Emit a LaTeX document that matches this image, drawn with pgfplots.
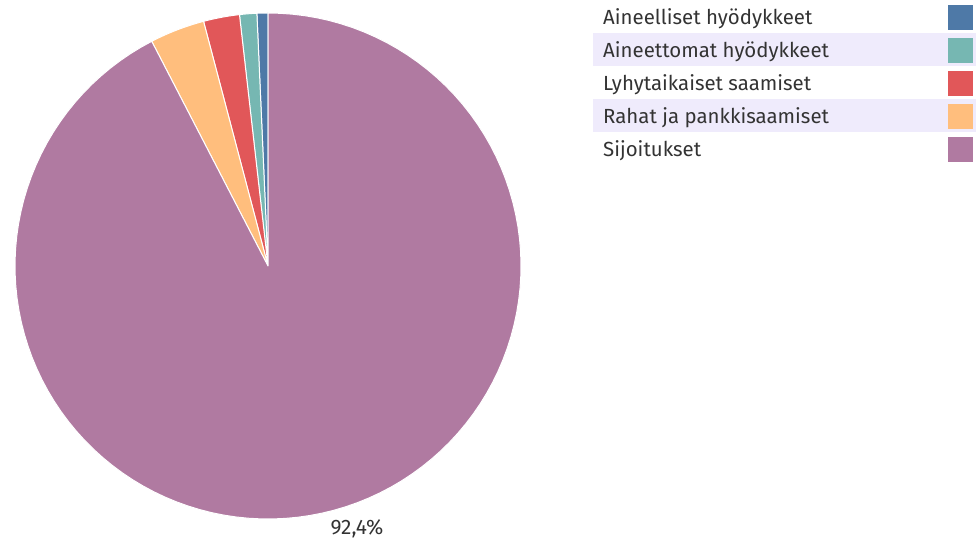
\documentclass[border=0pt]{standalone}
\usepackage{pgfplots}
\usepackage{pgfplotstable}
\pgfplotsset{compat=1.18}
\usepackage{fontspec}
\setmainfont{Fira Sans}
\definecolor{cBlue}{HTML}{4E79A7}
\definecolor{cTeal}{HTML}{76B7B2}
\definecolor{cRed}{HTML}{E15759}
\definecolor{cOrange}{HTML}{FFBE7D}
\definecolor{cPurple}{HTML}{B07AA1}
\definecolor{stripe}{HTML}{EFEBFC}
\definecolor{txt}{HTML}{333333}
\pgfplotstableread{
idx value color
0 0.7 cBlue
1 1.1 cTeal
2 2.3 cRed
3 3.5 cOrange
4 92.4 cPurple
}\piedata
\tikzset{legtxt/.style={anchor=base west, inner sep=0pt, font=\fontsize{20.5pt}{24pt}\selectfont, text=txt}}
\begin{document}
\begin{tikzpicture}
\begin{axis}[
  scale only axis, width=976bp, height=538bp,
  xmin=0, xmax=976, ymin=0, ymax=538,
  hide axis, clip=false,
]
\path[draw=none, fill=none] (axis cs:0,0) rectangle (axis cs:976,538);
% legend stripes
\fill[stripe] (axis cs:593,505) rectangle (axis cs:976,472);
\fill[stripe] (axis cs:593,439) rectangle (axis cs:976,406);
% pie slices
\def\pcum{0}
\pgfplotsforeachungrouped \i in {0,...,4}{%
  \pgfplotstablegetelem{\i}{value}\of\piedata
  \let\pval\pgfplotsretval
  \pgfplotstablegetelem{\i}{color}\of\piedata
  \let\pcol\pgfplotsretval
  \pgfmathsetmacro\pa{90+3.6*\pcum}%
  \pgfmathsetmacro\pb{90+3.6*(\pcum+\pval)}%
  \edef\tmp{\noexpand\addplot[fill=\pcol, draw=white, line width=1pt, line join=round, domain=\pa:\pb, samples=120, variable=\noexpand\t] ({268+253*cos(\noexpand\t)},{272+253*sin(\noexpand\t)}) -- (axis cs:268,272) -- cycle;}%
  \tmp
  \pgfmathsetmacro\pcum{\pcum+\pval}%
}
\node[anchor=base, inner sep=0pt, font=\fontsize{21pt}{24pt}\selectfont, text=txt] at (axis cs:357,4) {92,4\%};
% legend
\node[legtxt] at (axis cs:603,513) {Aineelliset hyödykkeet};
\node[legtxt] at (axis cs:603,480) {Aineettomat hyödykkeet};
\node[legtxt] at (axis cs:603,447) {Lyhytaikaiset saamiset};
\node[legtxt] at (axis cs:603,414) {Rahat ja pankkisaamiset};
\node[legtxt] at (axis cs:603,381) {Sijoitukset};
\fill[cBlue]   (axis cs:948,533) rectangle (axis cs:973,508);
\fill[cTeal]   (axis cs:948,500) rectangle (axis cs:973,475);
\fill[cRed]    (axis cs:948,467) rectangle (axis cs:973,442);
\fill[cOrange] (axis cs:948,434) rectangle (axis cs:973,409);
\fill[cPurple] (axis cs:948,401) rectangle (axis cs:973,376);
\end{axis}
\end{tikzpicture}
\end{document}
